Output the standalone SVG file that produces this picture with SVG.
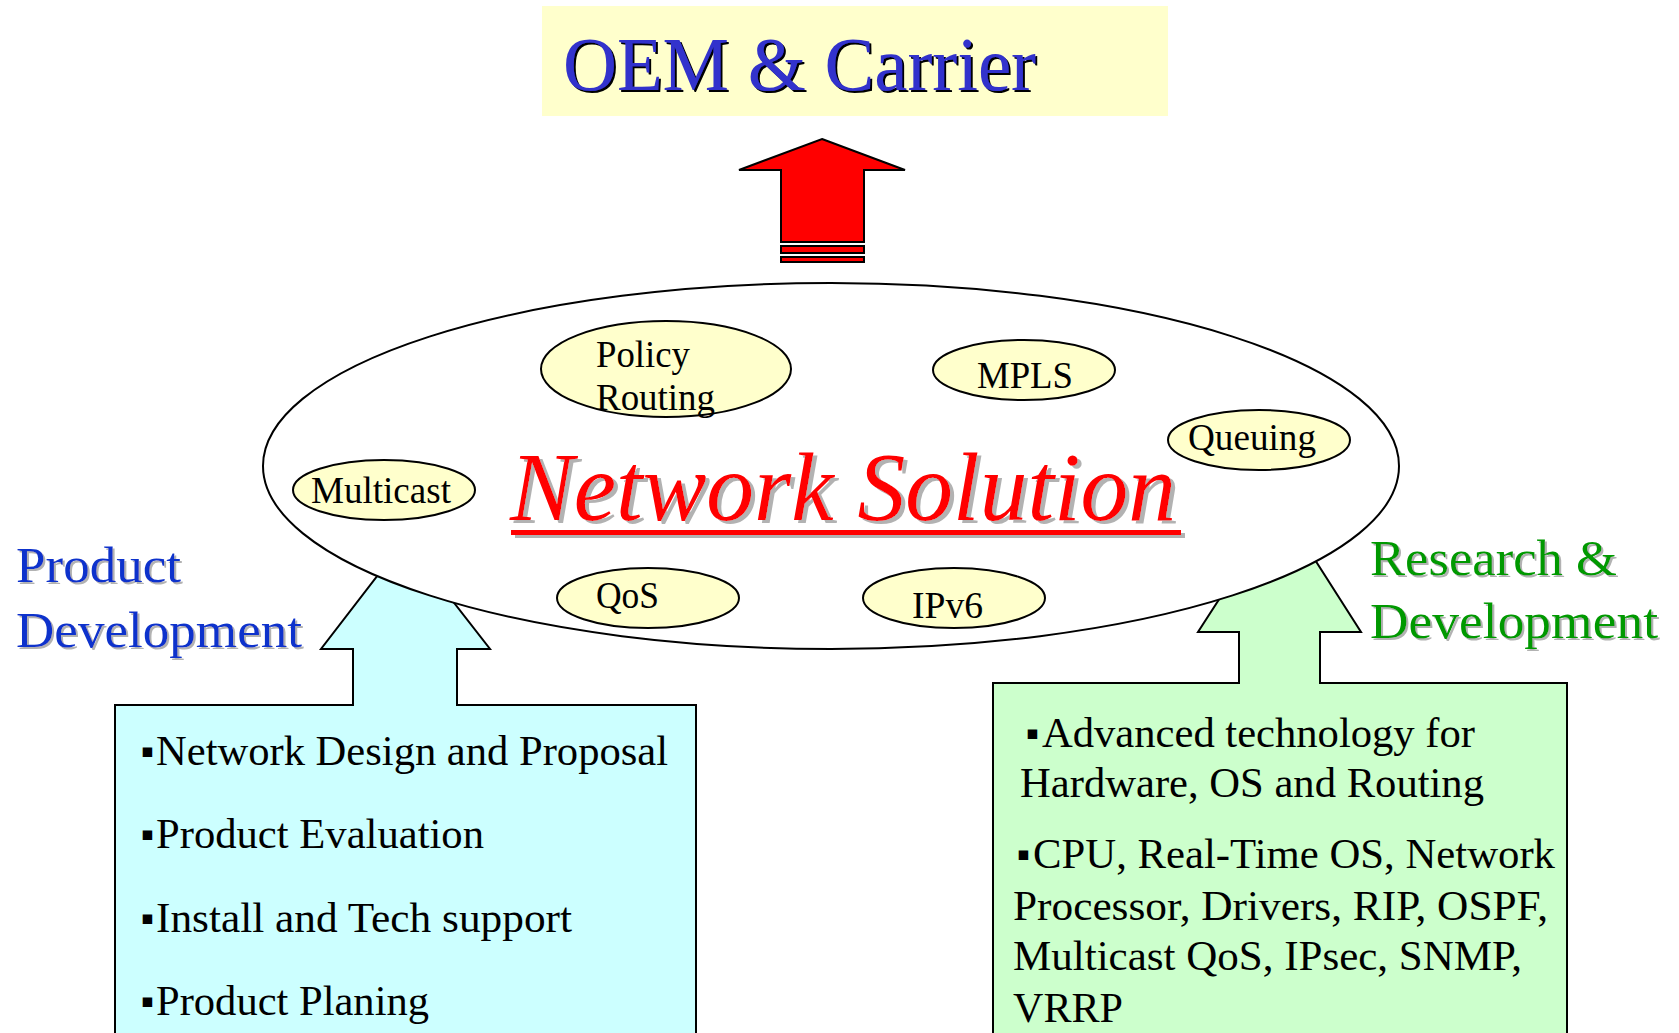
<svg xmlns="http://www.w3.org/2000/svg" width="1679" height="1033" viewBox="0 0 1679 1033">
<defs>
  <filter id="shGray" x="-5%" y="-10%" width="110%" height="130%">
    <feOffset in="SourceAlpha" dx="2" dy="2" result="o"/>
    <feFlood flood-color="#B2B2B2"/>
    <feComposite in2="o" operator="in" result="s"/>
    <feMerge><feMergeNode in="s"/><feMergeNode in="SourceGraphic"/></feMerge>
  </filter>
  <filter id="shGray3" x="-5%" y="-10%" width="110%" height="130%">
    <feOffset in="SourceAlpha" dx="4" dy="3" result="o"/>
    <feFlood flood-color="#B2B2B2"/>
    <feComposite in2="o" operator="in" result="s"/>
    <feMerge><feMergeNode in="s"/><feMergeNode in="SourceGraphic"/></feMerge>
  </filter>
  <filter id="shBlack" x="-5%" y="-10%" width="110%" height="130%">
    <feOffset in="SourceAlpha" dx="2" dy="2" result="o"/>
    <feFlood flood-color="#000"/>
    <feComposite in2="o" operator="in" result="s"/>
    <feMerge><feMergeNode in="s"/><feMergeNode in="SourceGraphic"/></feMerge>
  </filter>
</defs>
<style>
.serif{font-family:"Liberation Serif","Times New Roman",serif;}
.bul{font-family:"DejaVu Sans",sans-serif;font-size:19px;fill:#000;}
.box{font-family:"Liberation Serif","Times New Roman",serif;font-size:42px;fill:#000;}
.tag{font-family:"Liberation Serif","Times New Roman",serif;font-size:38px;fill:#000;}
.small{fill:#FFFFCC;stroke:#000;stroke-width:2;}
.head{font-family:"Liberation Serif","Times New Roman",serif;font-size:51px;}
</style>
<rect width="1679" height="1033" fill="#fff"/>

<g id="oem-carrier">
  <rect x="542" y="6" width="626" height="110" fill="#FFFFCC"/>
  <text class="serif" x="563" y="90" font-size="76" fill="#3333CC" filter="url(#shBlack)" textLength="473" lengthAdjust="spacingAndGlyphs">OEM &amp; Carrier</text>
</g>

<g id="connectors">
  <g id="red-arrow" fill="#FF0000" stroke="#000" stroke-width="2">
    <polygon points="822,139 905,170 864,170 864,242 781,242 781,170 739,170"/>
    <rect x="781" y="246" width="83" height="7"/>
    <rect x="781" y="257" width="83" height="5"/>
  </g>
</g>

<g id="product-development">
  <polygon points="115,1040 115,705 353,705 353,649 321,649 405,540 490,649 457,649 457,705 696,705 696,1040" fill="#CCFFFF" stroke="#000" stroke-width="2"/>
  <g filter="url(#shGray)" fill="#1133CC">
    <text class="head" x="16" y="582" textLength="165" lengthAdjust="spacingAndGlyphs">Product</text>
    <text class="head" x="16" y="647" textLength="286" lengthAdjust="spacingAndGlyphs">Development</text>
  </g>
  <text class="bul" x="141" y="757">▪</text>
  <text class="box" x="156" y="765" textLength="512" lengthAdjust="spacingAndGlyphs">Network Design and Proposal</text>
  <text class="bul" x="141" y="840">▪</text>
  <text class="box" x="156" y="848" textLength="328" lengthAdjust="spacingAndGlyphs">Product Evaluation</text>
  <text class="bul" x="141" y="924">▪</text>
  <text class="box" x="156" y="932" textLength="416" lengthAdjust="spacingAndGlyphs">Install and Tech support</text>
  <text class="bul" x="141" y="1007">▪</text>
  <text class="box" x="156" y="1015" textLength="273" lengthAdjust="spacingAndGlyphs">Product Planing</text>
</g>

<g id="research-development">
  <polygon points="993,1040 993,683 1239,683 1239,632 1198,632 1280,505 1361,632 1320,632 1320,683 1567,683 1567,1040" fill="#CCFFCC" stroke="#000" stroke-width="2"/>
  <g filter="url(#shGray)" fill="#009900">
    <text class="head" x="1370" y="575" textLength="247" lengthAdjust="spacingAndGlyphs">Research &amp;</text>
    <text class="head" x="1370" y="638" textLength="288" lengthAdjust="spacingAndGlyphs">Development</text>
  </g>
  <text class="bul" x="1026" y="739">▪</text>
  <text class="box" x="1042" y="747" textLength="433" lengthAdjust="spacingAndGlyphs">Advanced technology for</text>
  <text class="box" x="1020" y="797" textLength="464" lengthAdjust="spacingAndGlyphs">Hardware, OS and Routing</text>
  <text class="bul" x="1017" y="860">▪</text>
  <text class="box" x="1033" y="868" textLength="522" lengthAdjust="spacingAndGlyphs">CPU, Real-Time OS, Network</text>
  <text class="box" x="1013" y="920" textLength="535" lengthAdjust="spacingAndGlyphs">Processor, Drivers, RIP, OSPF,</text>
  <text class="box" x="1013" y="970" textLength="509" lengthAdjust="spacingAndGlyphs">Multicast QoS, IPsec, SNMP,</text>
  <text class="box" x="1013" y="1022" textLength="110" lengthAdjust="spacingAndGlyphs">VRRP</text>
</g>

<g id="network-solution">
  <ellipse cx="831" cy="466" rx="568" ry="183" fill="#fff" stroke="#000" stroke-width="2"/>
  <g filter="url(#shGray3)" fill="#FF0000">
    <rect x="511" y="530" width="670" height="5"/>
    <text class="serif" x="510" y="520" font-size="97" font-style="italic" textLength="666" lengthAdjust="spacingAndGlyphs">Network Solution</text>
  </g>
</g>

<g id="policy-routing">
  <ellipse class="small" cx="666" cy="369" rx="125" ry="48"/>
  <text class="tag" x="596" y="367" textLength="94" lengthAdjust="spacingAndGlyphs">Policy</text>
  <text class="tag" x="596" y="410" textLength="119" lengthAdjust="spacingAndGlyphs">Routing</text>
</g>
<g id="mpls">
  <ellipse class="small" cx="1024" cy="370" rx="91" ry="30"/>
  <text class="tag" x="977" y="388" textLength="96" lengthAdjust="spacingAndGlyphs">MPLS</text>
</g>
<g id="queuing">
  <ellipse class="small" cx="1259" cy="440" rx="91" ry="30"/>
  <text class="tag" x="1188" y="450" textLength="128" lengthAdjust="spacingAndGlyphs">Queuing</text>
</g>
<g id="multicast">
  <ellipse class="small" cx="384" cy="490" rx="91" ry="30"/>
  <text class="tag" x="311" y="503" textLength="140" lengthAdjust="spacingAndGlyphs">Multicast</text>
</g>
<g id="qos">
  <ellipse class="small" cx="648" cy="598" rx="91" ry="30"/>
  <text class="tag" x="596" y="608" textLength="63" lengthAdjust="spacingAndGlyphs">QoS</text>
</g>
<g id="ipv6">
  <ellipse class="small" cx="954" cy="598" rx="91" ry="30"/>
  <text class="tag" x="912" y="618" textLength="71" lengthAdjust="spacingAndGlyphs">IPv6</text>
</g>
</svg>
